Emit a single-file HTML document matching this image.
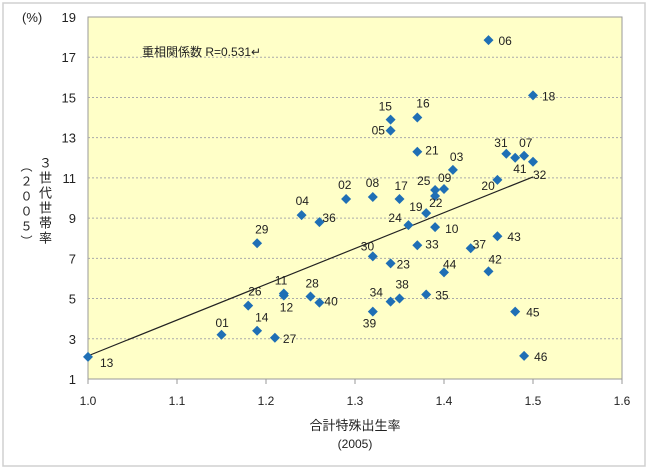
<!DOCTYPE html>
<html><head><meta charset="utf-8"><style>
body{margin:0;background:#fff;font-family:"Liberation Sans","Noto Sans CJK JP",sans-serif;}
#wrap{position:relative;width:649px;height:470px;}
.vt{position:absolute;writing-mode:vertical-rl;text-orientation:upright;font-size:13px;color:#222;line-height:14px;font-family:"Noto Sans CJK JP",sans-serif;letter-spacing:2px;}
</style></head><body>
<div id="wrap">
<svg id="chart" width="649" height="470" style="position:absolute;left:0;top:0">
<rect x="3" y="3" width="642" height="463" fill="#fff" stroke="#d0d0d0" stroke-width="1.5"/>
</svg>
<div class="vt" style="left:38px;top:156px;">３世代世帯率</div>
<div class="vt" style="left:19px;top:160px;font-size:12px;letter-spacing:3px;"><span style="text-orientation:mixed">（</span>２００５<span style="text-orientation:mixed">）</span></div>
</div>
<script>
const labels=["13","01","14","27","26","11","12","28","40","29","04","36","02","08","17","15","05","16","21","06","18","03","31","41","07","32","20","25","09","22","19","24","10","33","37","43","30","23","44","42","34","38","35","39","45","46"];
const xVals=[1.00,1.15,1.19,1.21,1.18,1.22,1.22,1.25,1.26,1.19,1.24,1.26,1.29,1.32,1.35,1.34,1.34,1.37,1.37,1.45,1.50,1.41,1.47,1.48,1.49,1.50,1.46,1.39,1.40,1.39,1.38,1.36,1.39,1.37,1.43,1.46,1.32,1.34,1.40,1.45,1.34,1.35,1.38,1.32,1.48,1.49];
const yVals=[2.1,3.2,3.4,3.05,4.65,5.25,5.15,5.1,4.8,7.75,9.15,8.8,9.95,10.05,9.95,13.9,13.35,14.0,12.3,17.85,15.1,11.4,12.2,12.0,12.1,11.8,10.9,10.4,10.45,10.1,9.25,8.65,8.55,7.65,7.5,8.1,7.1,6.75,6.3,6.35,4.85,5.0,5.2,4.35,4.35,2.15];
const xTicks=["1.0","1.1","1.2","1.3","1.4","1.5","1.6"];
const yTicks=[1,3,5,7,9,11,13,15,17,19];
const trendX=[1.0,1.5];
const trendY=[2.15,11.05];
const offs={"13":[12,10],"01":[-6,-8],"14":[-2,-9],"27":[8,5],"26":[0,-10],"11":[-9,-9],"12":[-4,16],"28":[-5,-9],"40":[5,3],"29":[-2,-10],"04":[-6,-10],"36":[3,0],"02":[-8,-10],"08":[-7,-10],"17":[-5,-9],"15":[-12,-9],"05":[-19,4],"16":[-1,-10],"21":[8,3],"06":[10,5],"18":[9,5],"03":[-3,-9],"31":[-12,-7],"41":[-2,15],"07":[-5,-9],"32":[0,17],"20":[-16,10],"25":[-18,-5],"09":[-6,-7],"22":[-6,11],"19":[-17,-2],"24":[-20,-3],"10":[10,6],"33":[8,3],"37":[2,0],"43":[10,5],"30":[-12,-6],"23":[6,5],"44":[-1,-4],"42":[0,-8],"34":[-21,-5],"38":[-4,-10],"35":[9,5],"39":[-10,16],"45":[11,5],"46":[10,5]};
const svg=document.getElementById('chart');const NS='http://www.w3.org/2000/svg';
const L=88,R=622,T=17,B=379;
const sx=v=>L+(v-1.0)/0.6*(R-L);
const sy=v=>B-(v-1)/18*(B-T);
function mk(t,a){const e=document.createElementNS(NS,t);for(const k in a)e.setAttribute(k,a[k]);svg.appendChild(e);return e;}
const bg=mk('rect',{x:L,y:T,width:R-L,height:B-T,fill:'#ffffc8',stroke:'#999','stroke-width':1});


yTicks.forEach(v=>{
 if(v>1&&v<19){const g=mk('line',{x1:L,x2:R,y1:sy(v),y2:sy(v),stroke:'#aaa','stroke-dasharray':'2,2','stroke-width':1});
 
 }
 const t=mk('text',{x:76,y:sy(v)+5,'text-anchor':'end','font-size':13,fill:'#222'});t.textContent=v;
 
 
});
xTicks.forEach(s=>{const v=parseFloat(s);
 const tk=mk('line',{x1:sx(v),x2:sx(v),y1:B,y2:B+5,stroke:'#999'});
 
 
 const t=mk('text',{x:sx(v),y:B+26,'text-anchor':'middle','font-size':12,fill:'#222'});t.textContent=s;
 
 
});
const tl=mk('line',{x1:sx(trendX[0]),y1:sy(trendY[0]),x2:sx(trendX[1]),y2:sy(trendY[1]),stroke:'#222','stroke-width':1.2});


labels.forEach((lb,i)=>{
 const x=sx(xVals[i]),y=sy(yVals[i]);
 const p=mk('path',{d:`M${x} ${y-5}L${x+5} ${y}L${x} ${y+5}L${x-5} ${y}Z`,fill:'#1f6fb5'});
 
 
 const o=offs[lb]||[6,4];
 const t=mk('text',{x:x+o[0],y:y+o[1],'font-size':12,fill:'#222'});t.textContent=lb;
 
 
});
const r=mk('text',{x:142,y:56,'font-size':12,fill:'#222'});r.textContent='重相関係数 R=0.531↵';


const pc=mk('text',{x:22,y:22,'font-size':13,fill:'#222'});pc.textContent='(%)';


const xt=mk('text',{x:355,y:430,'text-anchor':'middle','font-size':13,fill:'#222'});xt.textContent='合計特殊出生率';


const xy=mk('text',{x:355,y:448,'text-anchor':'middle','font-size':12,fill:'#222'});xy.textContent='(2005)';


</script>
</body></html>
